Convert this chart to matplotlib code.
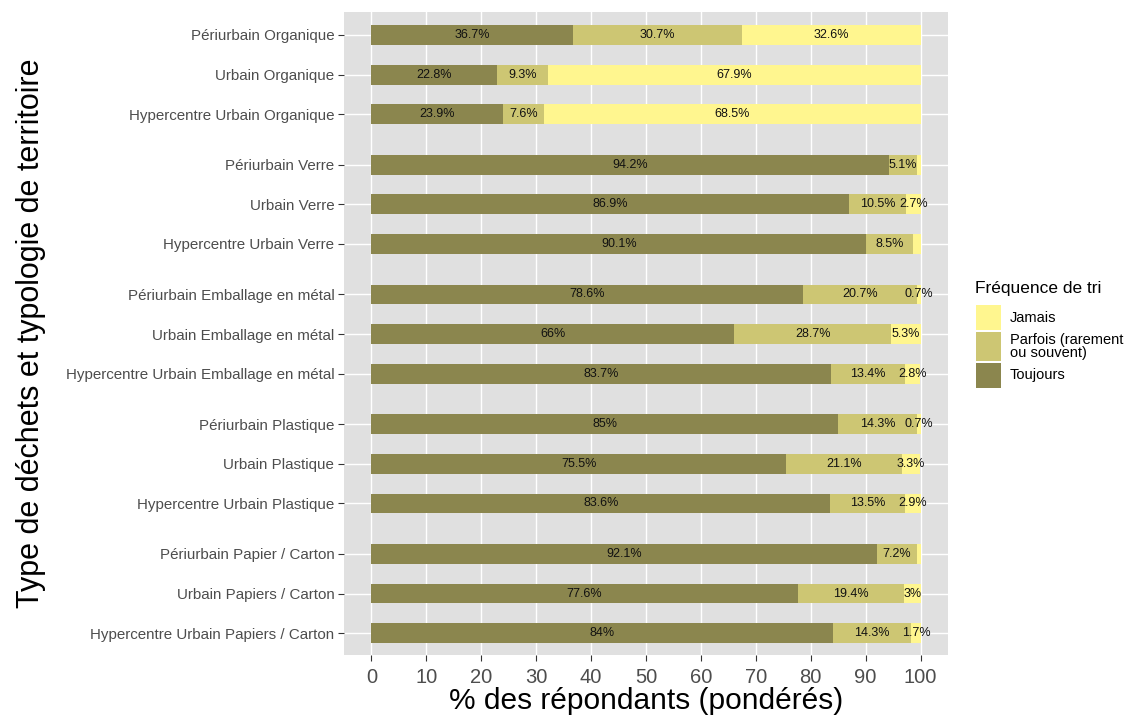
import matplotlib
matplotlib.use("Agg")
import matplotlib.pyplot as plt
from matplotlib.patches import Rectangle
import numpy as np

plt.rcParams['font.family'] = ['Liberation Sans', 'DejaVu Sans']

categories = [
    "Périurbain Organique", "Urbain Organique", "Hypercentre Urbain Organique",
    "Périurbain Verre", "Urbain Verre", "Hypercentre Urbain Verre",
    "Périurbain Emballage en métal", "Urbain Emballage en métal", "Hypercentre Urbain Emballage en métal",
    "Périurbain Plastique", "Urbain Plastique", "Hypercentre Urbain Plastique",
    "Périurbain Papier / Carton", "Urbain Papiers / Carton", "Hypercentre Urbain Papiers / Carton",
]
groups = [0, 0, 0, 1, 1, 1, 2, 2, 2, 3, 3, 3, 4, 4, 4]

toujours = [36.7, 22.8, 23.9, 94.2, 86.9, 90.1, 78.6, 66, 83.7, 85, 75.5, 83.6, 92.1, 77.6, 84]
parfois = [30.7, 9.3, 7.6, 5.1, 10.5, 8.5, 20.7, 28.7, 13.4, 14.3, 21.1, 13.5, 7.2, 19.4, 14.3]
jamais = [32.6, 67.9, 68.5, 0.7, 2.7, 1.4, 0.7, 5.3, 2.8, 0.7, 3.3, 2.9, 0.7, 3, 1.7]
# labels shown on the original chart (some small "Jamais" values were not labelled)
jamais_shown = [True, True, True, False, True, False, True, True, True, True, True, True, False, True, True]

series = [("Toujours", toujours, "#8B864E"),
          ("Parfois (rarement\nou souvent)", parfois, "#CDC673"),
          ("Jamais", jamais, "#FFF68F")]

x_ticks = [0, 10, 20, 30, 40, 50, 60, 70, 80, 90, 100]

W, H = 1131, 720
fig = plt.figure(figsize=(W / 100, H / 100), dpi=100)
ax = fig.add_axes([344 / W, 1 - 655 / H, (948 - 344) / W, (655 - 12) / H])
ax.set_facecolor("#E0E0E0")

ypos = np.array([i + 0.275 * g for i, g in enumerate(groups)])

left = np.zeros(len(categories))
for name, vals, col in series:
    vals = np.array(vals, dtype=float)
    ax.barh(ypos, vals, left=left, height=0.5, color=col, zorder=3)
    for k, (y, v, l) in enumerate(zip(ypos, vals, left)):
        if name == "Jamais" and not jamais_shown[k]:
            continue
        ax.text(l + v / 2, y, f"{v:g}%", ha="center", va="center",
                fontsize=9, color="#111111", zorder=4)
    left = left + vals

ax.set_xlim(-5, 105)
ax.set_ylim(ypos[-1] + 0.55, -0.58)
ax.set_xticks(x_ticks)
ax.set_xticklabels([str(t) for t in x_ticks])
ax.set_yticks(ypos)
ax.set_yticklabels(categories)
ax.grid(True, color="white", linewidth=1.0, zorder=0)
ax.set_axisbelow(True)
for s in ax.spines.values():
    s.set_visible(False)
ax.tick_params(axis="y", labelsize=10.9, labelcolor="#4D4D4D", color="#333333", length=4, pad=3)
ax.tick_params(axis="x", labelsize=14.5, labelcolor="#4D4D4D", color="#333333", length=4.5, pad=5)
ax.set_xlabel("% des répondants (pondérés)", fontsize=21.5)
ax.xaxis.set_label_coords(0.5, -(687 - 655) / (655 - 12))
ax.set_ylabel("Type de déchets et typologie de territoire", fontsize=22)
ax.yaxis.set_label_coords((46 - 344) / (948 - 344), 0.5)

# legend
fig.text(975 / W, 1 - 289 / H, "Fréquence de tri", fontsize=12.5, ha="left", va="center")
legend_items = [("Jamais", "#FFF68F", 305, 330),
                ("Parfois (rarement\nou souvent)", "#CDC673", 332, 361),
                ("Toujours", "#8B864E", 363, 388)]
for lab, col, y0, y1 in legend_items:
    fig.add_artist(Rectangle((976 / W, 1 - y1 / H), (1001 - 976) / W, (y1 - y0) / H,
                             transform=fig.transFigure, facecolor=col, edgecolor="none"))
    fig.text(1010 / W, 1 - ((y0 + y1) / 2) / H, lab, fontsize=10.5, ha="left", va="center",
             linespacing=0.9)

fig.savefig("out.png", dpi=100)
